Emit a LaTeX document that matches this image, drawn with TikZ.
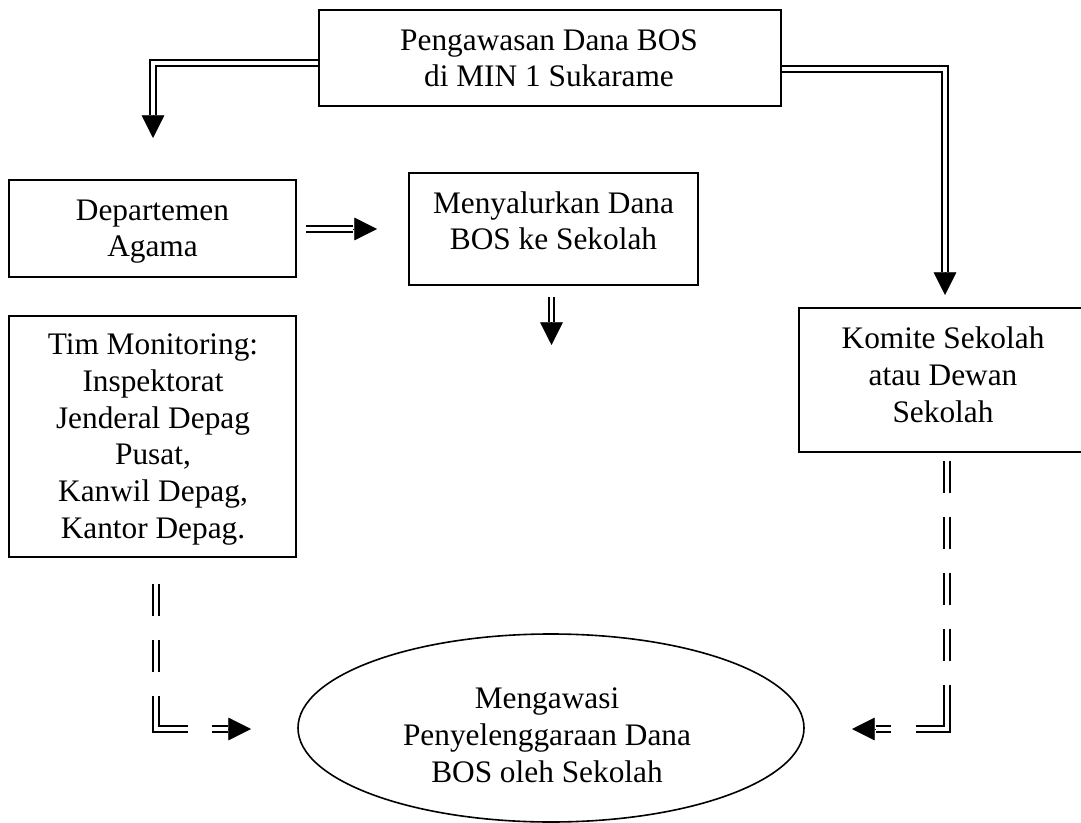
\documentclass[tikz,border=0pt]{standalone}
\usepackage{fontspec}
\setmainfont{Liberation Serif}
\usetikzlibrary{arrows.meta,shapes.geometric}
\begin{document}
\begin{tikzpicture}[x=0.75pt,y=-0.75pt,
  box/.style={draw, line width=1.1pt, inner sep=0pt, rectangle},
  txt/.style={align=center, inner sep=0pt, font=\fontsize{23.5}{27.5}\selectfont, anchor=base},
  dbl/.style={draw, double, line width=1.5pt, double distance=2.5pt},
  tipstyle/.style={line width=0.4pt, -{Triangle[width=17pt,length=17pt]}}]
\useasboundingbox (0,0) rectangle (1081,823);

% boxes (text anchored at the baseline of its last line)
\node[box, minimum width=346.5pt, minimum height=72pt] (top) at (550,58) {};
\node[txt] (toptxt) at (549,87) {Pengawasan Dana BOS\\di MIN 1 Sukarame};
\node[box, minimum width=215.25pt, minimum height=72.75pt] (dep) at (152.5,228.5) {};
\node[txt] (deptxt) at (152.5,257) {Departemen\\Agama};
\node[box, minimum width=215.25pt, minimum height=180.75pt] (tim) at (152.5,436.5) {};
\node[txt] (timtxt) at (153,538) {Tim Monitoring:\\Inspektorat\\Jenderal Depag\\Pusat,\\Kanwil Depag,\\Kantor Depag.};
\node[box, minimum width=216.75pt, minimum height=84pt] (menu) at (553.5,229) {};
\node[txt] (menutxt) at (553.5,250) {Menyalurkan Dana\\BOS ke Sekolah};
\node[box, minimum width=216pt, minimum height=108pt] (kom) at (943,380) {};
\node[txt] (komtxt) at (943,422) {Komite Sekolah\\atau Dewan\\Sekolah};
\node[draw, ellipse, line width=1.2pt, inner sep=0pt, minimum width=379.5pt, minimum height=141pt] (goal) at (551,728) {};
\node[txt] (goaltxt) at (547,782) {Mengawasi\\Penyelenggaraan Dana\\BOS oleh Sekolah};

% connector points
\coordinate (tl) at (153,63);    \coordinate (tlb) at (153,115);  \coordinate (tlt) at (153,138);
\coordinate (tr) at (945,69);    \coordinate (trb) at (945,272);  \coordinate (trt) at (945,295);
\coordinate (ms) at (306,229);   \coordinate (mb) at (353,229);   \coordinate (mt) at (377,229);
\coordinate (ds) at (551.5,297); \coordinate (db) at (551.5,322); \coordinate (dt) at (551.5,345);
\coordinate (ls) at (156,584);   \coordinate (lc) at (156,729);   \coordinate (lb) at (228,729);  \coordinate (lt) at (251,729);
\coordinate (rs) at (947,461);   \coordinate (rc) at (947,729);   \coordinate (rb) at (876,729);  \coordinate (rt) at (852,729);

% solid double connectors
\draw[dbl] (top.west |- tl) -- (tl) -- (tlb);
\draw[tipstyle] (tlb) -- (tlt);
\draw[dbl] (top.east |- tr) -- (tr) -- (trb);
\draw[tipstyle] (trb) -- (trt);
\draw[dbl] (ms) -- (mb);
\draw[tipstyle] (mb) -- (mt);
\draw[dbl] (ds) -- (db);
\draw[tipstyle] (db) -- (dt);

% dashed double connectors
\draw[dbl, dash pattern=on 24pt off 18pt on 24pt off 18pt on 48.75pt off 18pt on 60pt] (ls) -- (lc) -- (lb);
\draw[tipstyle] (lb) -- (lt);
\draw[dbl, dash pattern=on 24pt off 18pt on 24pt off 18pt on 24pt off 18pt on 24pt off 18pt on 56.25pt off 18.75pt on 75pt] (rs) -- (rc) -- (rb);
\draw[tipstyle] (rb) -- (rt);
\end{tikzpicture}
\end{document}
